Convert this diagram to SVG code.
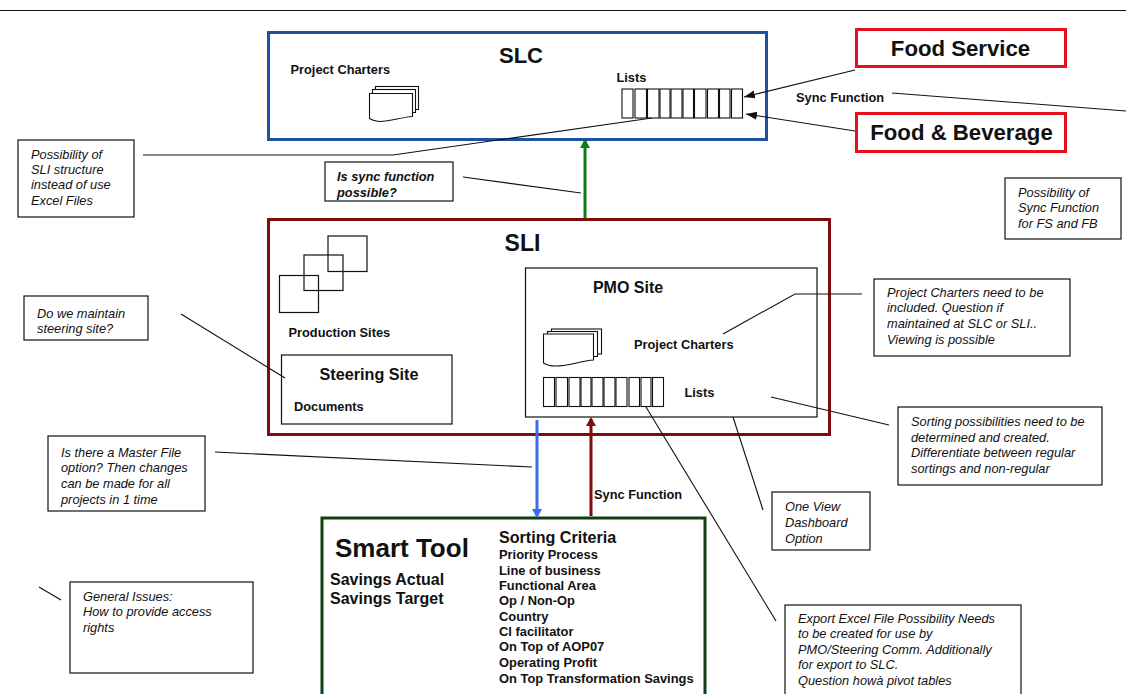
<svg xmlns="http://www.w3.org/2000/svg" width="1126" height="694" viewBox="0 0 1126 694">
<style>
text{font-family:"Liberation Sans",Arial,sans-serif;fill:#111}
.b{font-weight:700}
.n{font-size:12.800px;font-style:italic}
.s{font-size:12.800px;font-weight:700}
.box{fill:#fff;stroke:#111;stroke-width:1.2}
.o{fill:none;stroke:#111;stroke-width:1.2}
.l{fill:none;stroke:#111;stroke-width:1.1}
.d{fill:#fff;stroke:#111;stroke-width:1.1}
</style>
<defs>
<marker id="k" markerUnits="userSpaceOnUse" markerWidth="12" markerHeight="10" refX="11" refY="4" orient="auto"><path d="M0 0L11 4L0 8Z" fill="#111"/></marker>
<g id="doc1">
<rect class="d" x="6" y="0" width="43" height="23"/>
<rect class="d" x="3" y="3" width="43" height="23"/>
<path class="d" d="M0 7H43V30C30 31 22 35 10 35C5 35 3 34 0 32Z"/>
</g>
<g id="doc2">
<rect class="d" x="8" y="0" width="50" height="25"/>
<rect class="d" x="4" y="2.500" width="50" height="25"/>
<path class="d" d="M0 5H50V31C36 32 27 37 12 37C6 37 3 36 0 34Z"/>
</g>
</defs>
<rect width="1126" height="694" fill="#fff"/>
<path d="M0 10.500H1126" stroke="#111" stroke-width="1"/>

<g id="slc">
<rect x="268.500" y="32.500" width="498" height="107" fill="#fff" stroke="#2050a0" stroke-width="3"/>
<text class="b" x="521" y="63" font-size="22" text-anchor="middle">SLC</text>
<text class="s" x="290.500" y="74">Project Charters</text>
<use href="#doc1" x="369.500" y="86.500"/>
<text class="s" x="616.500" y="82">Lists</text>
<g id="slc-lists" class="d">
<rect x="622" y="89" width="11" height="29"/><rect x="635" y="89" width="11.500" height="29"/><rect x="647.500" y="89" width="11.500" height="29"/><rect x="660" y="89" width="10" height="29"/><rect x="671" y="89" width="11" height="29"/><rect x="683" y="89" width="10.500" height="29"/><rect x="694.500" y="89" width="11.500" height="29"/><rect x="707.500" y="89" width="11" height="29"/><rect x="719.500" y="89" width="10.500" height="29"/><rect x="731.500" y="89" width="11" height="29"/>
</g>
</g>

<g id="food-service">
<rect x="856.500" y="29.500" width="209" height="37" fill="#fff" stroke="#e8101c" stroke-width="3"/>
<text class="b" x="960.500" y="56" font-size="22.200" text-anchor="middle">Food Service</text>
</g>
<g id="food-beverage">
<rect x="856.500" y="113.500" width="209" height="38" fill="#fff" stroke="#e8101c" stroke-width="3"/>
<text class="b" x="961.500" y="140" font-size="22.200" text-anchor="middle">Food &amp; Beverage</text>
</g>
<text class="s" x="796" y="102">Sync Function</text>

<g id="sli">
<rect x="268.500" y="219.500" width="561" height="215" fill="#fff" stroke="#7f0c0c" stroke-width="3"/>
<text class="b" x="522.500" y="251" font-size="23" text-anchor="middle">SLI</text>
<rect class="o" x="279.500" y="275.500" width="39" height="37"/>
<rect class="o" x="304" y="255" width="39" height="35.500"/>
<rect class="o" x="328" y="236" width="39" height="35.500"/>
<text class="s" x="288.500" y="337">Production Sites</text>
</g>
<g id="steering-site">
<rect class="box" x="281.500" y="355" width="170.500" height="69"/>
<text class="b" x="369" y="380" font-size="16.200" text-anchor="middle">Steering Site</text>
<text class="s" x="294" y="411">Documents</text>
</g>
<g id="pmo-site">
<rect class="box" x="525.500" y="268" width="291.500" height="149"/>
<text class="b" x="628" y="293" font-size="16" text-anchor="middle">PMO Site</text>
<use href="#doc2" x="543.500" y="329"/>
<text class="s" x="634" y="349">Project Charters</text>
<g id="pmo-lists" class="d">
<rect x="543.500" y="377.500" width="11" height="29"/><rect x="556" y="377.500" width="11.500" height="29"/><rect x="569" y="377.500" width="11" height="29"/><rect x="581" y="377.500" width="10" height="29"/><rect x="592" y="377.500" width="11" height="29"/><rect x="604" y="377.500" width="11" height="29"/><rect x="616" y="377.500" width="11" height="29"/><rect x="629" y="377.500" width="10.500" height="29"/><rect x="641" y="377.500" width="10" height="29"/><rect x="652.500" y="377.500" width="11" height="29"/>
</g>
<text class="s" x="684.500" y="397">Lists</text>
</g>

<g id="smart-tool">
<rect x="322" y="518" width="383" height="190" fill="#fff" stroke="#123f12" stroke-width="3"/>
<text class="b" x="335" y="557" font-size="26">Smart Tool</text>
<text class="b" x="330" y="585" font-size="16">Savings Actual</text>
<text class="b" x="330" y="604" font-size="16">Savings Target</text>
<text class="b" x="499" y="543" font-size="16.100">Sorting Criteria</text>
<text class="b" font-size="12.900"><tspan x="499" y="559">Priority Process</tspan><tspan x="499" y="575">Line of business</tspan><tspan x="499" y="590">Functional Area</tspan><tspan x="499" y="605">Op / Non-Op</tspan><tspan x="499" y="621">Country</tspan><tspan x="499" y="636">CI facilitator</tspan><tspan x="499" y="651">On Top of AOP07</tspan><tspan x="499" y="667">Operating Profit</tspan><tspan x="499" y="683">On Top Transformation Savings</tspan></text>
</g>

<g id="note-sli-structure"><rect class="box" x="18" y="140" width="116" height="77"/>
<text class="n"><tspan x="31" y="159">Possibility of</tspan><tspan x="31" y="174">SLI structure</tspan><tspan x="31" y="189">instead of use</tspan><tspan x="31" y="205">Excel Files</tspan></text></g>
<g id="note-sync"><rect class="box" x="325" y="162" width="128" height="39"/>
<text class="s" font-style="italic"><tspan x="337" y="181">Is sync function</tspan><tspan x="337" y="197">possible?</tspan></text></g>
<g id="note-fs-fb"><rect class="box" x="1005" y="178" width="116" height="61"/>
<text class="n"><tspan x="1018" y="197">Possibility of</tspan><tspan x="1018" y="212">Sync Function</tspan><tspan x="1018" y="228">for FS and FB</tspan></text></g>
<g id="note-steering"><rect class="box" x="24" y="296" width="124" height="44"/>
<text class="n"><tspan x="37" y="318">Do we maintain</tspan><tspan x="37" y="333">steering site?</tspan></text></g>
<g id="note-charters"><rect class="box" x="874" y="279" width="196" height="77"/>
<text class="n"><tspan x="887" y="297">Project Charters need to be</tspan><tspan x="887" y="312">included. Question if</tspan><tspan x="887" y="328">maintained at SLC or SLI..</tspan><tspan x="887" y="344">Viewing is possible</tspan></text></g>
<g id="note-sorting"><rect class="box" x="898" y="407" width="204" height="78"/>
<text class="n"><tspan x="911" y="426">Sorting possibilities need to be</tspan><tspan x="911" y="442">determined and created.</tspan><tspan x="911" y="457">Differentiate between regular</tspan><tspan x="911" y="473">sortings and non-regular</tspan></text></g>
<g id="note-master"><rect class="box" x="48" y="436" width="157" height="75"/>
<text class="n"><tspan x="61" y="457">Is there a Master File</tspan><tspan x="61" y="472">option? Then changes</tspan><tspan x="61" y="488">can be made for all</tspan><tspan x="61" y="504">projects in 1 time</tspan></text></g>
<g id="note-dashboard"><rect class="box" x="772" y="492" width="98" height="58"/>
<text class="n"><tspan x="785" y="511">One View</tspan><tspan x="785" y="527">Dashboard</tspan><tspan x="785" y="543">Option</tspan></text></g>
<g id="note-general"><rect class="box" x="70" y="582" width="183" height="91"/>
<text class="n"><tspan x="83" y="601">General Issues:</tspan><tspan x="83" y="616">How to provide access</tspan><tspan x="83" y="632">rights</tspan></text></g>
<g id="note-export"><rect class="box" x="785" y="605" width="236" height="90"/>
<text class="n"><tspan x="798" y="623">Export Excel File Possibility Needs</tspan><tspan x="798" y="638">to be created for use by</tspan><tspan x="798" y="654">PMO/Steering Comm. Additionally</tspan><tspan x="798" y="669">for export to SLC.</tspan><tspan x="798" y="685">Question howà pivot tables</tspan></text></g>

<g id="connectors">
<path d="M855 70L744 97" class="l" marker-end="url(#k)"/>
<path d="M855 131L746 114" class="l" marker-end="url(#k)"/>
<path d="M892 93L1126 111" class="l"/>
<path d="M143 155L393 155L652 118" class="l"/>
<path d="M463 177L581 193" class="l"/>
<path d="M585 218V141" fill="none" stroke="#0a7d14" stroke-width="3"/>
<path d="M585 139l-5 9h10Z" fill="#0a7d14"/>
<path d="M181 314L285 378" class="l"/>
<path d="M723 334L795 294H862" class="l"/>
<path d="M771 397L889 425" class="l"/>
<path d="M733 417L763 510" class="l"/>
<path d="M646 407L776 621" class="l"/>
<path d="M215 452L532 467" class="l"/>
<path d="M537 420V516" fill="none" stroke="#3a6cf0" stroke-width="3"/>
<path d="M537 518l-5 -9h10Z" fill="#3a6cf0"/>
<path d="M591 516V419" fill="none" stroke="#7f0c0c" stroke-width="3"/>
<path d="M591 417l-5 9h10Z" fill="#7f0c0c"/>
<path d="M39 587L61 600" class="l"/>
</g>
<text class="s" x="594" y="499">Sync Function</text>
</svg>
